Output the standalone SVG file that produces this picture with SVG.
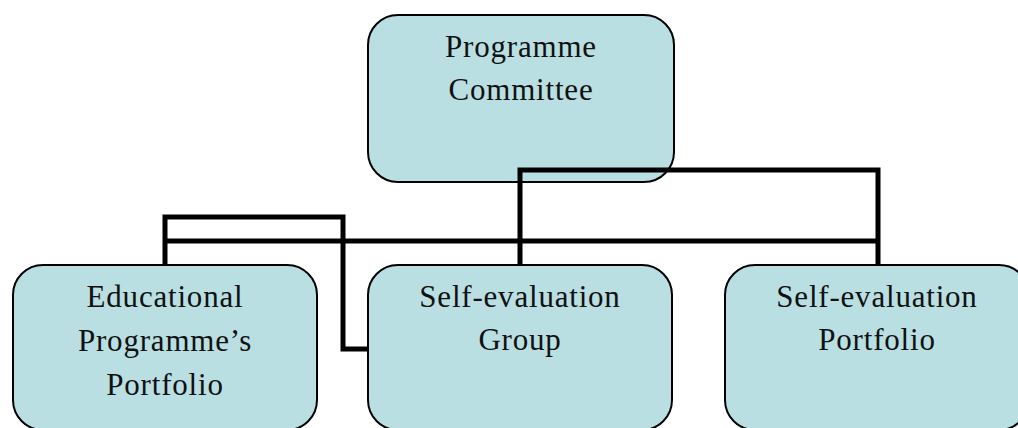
<svg xmlns="http://www.w3.org/2000/svg" width="1018" height="428" viewBox="0 0 1018 428">
  <style>
    .box { fill: #B9DFE2; stroke: #000; stroke-width: 2; }
    .lbl { font-family: "Liberation Serif", "Times New Roman", serif; font-size: 31px; letter-spacing: 0.8px; fill: #111; text-anchor: middle; }
    .conn { fill: none; stroke: #000; stroke-width: 5; stroke-linejoin: miter; }
  </style>
  <rect width="1018" height="428" fill="#fff"/>
  <g id="node-programme-committee">
    <rect class="box" x="368" y="15" width="306" height="167" rx="30" ry="30"/>
    <text class="lbl" x="521" y="57">Programme</text>
    <text class="lbl" x="521" y="100">Committee</text>
  </g>
  <g id="node-educational-portfolio">
    <rect class="box" x="13" y="265" width="304" height="165" rx="30" ry="30"/>
    <text class="lbl" x="165" y="307">Educational</text>
    <text class="lbl" x="165" y="351">Programme’s</text>
    <text class="lbl" x="165" y="395">Portfolio</text>
  </g>
  <g id="node-self-evaluation-group">
    <rect class="box" x="368" y="265" width="304" height="165" rx="30" ry="30"/>
    <text class="lbl" x="520" y="307">Self-evaluation</text>
    <text class="lbl" x="520" y="350">Group</text>
  </g>
  <g id="node-self-evaluation-portfolio">
    <rect class="box" x="725" y="265" width="304" height="165" rx="30" ry="30"/>
    <text class="lbl" x="877" y="307">Self-evaluation</text>
    <text class="lbl" x="877" y="350">Portfolio</text>
  </g>
  <g id="connectors">
    <path class="conn" d="M165,265 V217 H343 V349 H368"/>
    <path class="conn" d="M165,241 H878"/>
    <path class="conn" d="M520,265 V170 H878 V265"/>
  </g>
</svg>
